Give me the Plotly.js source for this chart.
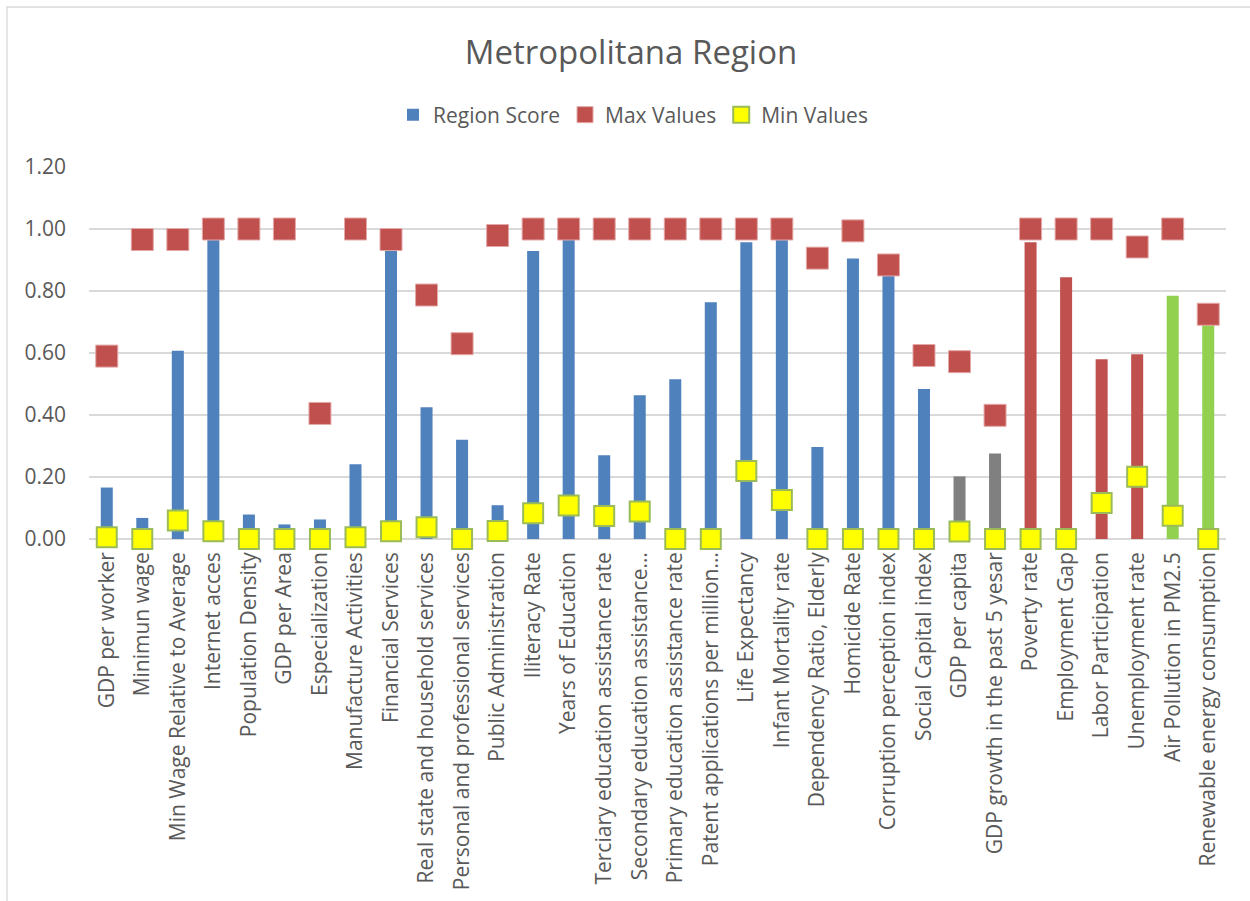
<!DOCTYPE html>
<html>
<head>
<meta charset="utf-8">
<script src="https://cdn.plot.ly/plotly-3.0.1.min.js"></script>
<style>
  html, body { margin: 0; padding: 0; background: #ffffff; }
  #chart { width: 1250px; height: 901px; }
</style>
</head>
<body>
<div id="chart"></div>
<script>
// Indicators of the Metropolitana region, normalised 0–1
const categories = [
  "GDP per worker", "Minimun wage", "Min Wage Relative to Average", "Internet acces",
  "Population Density", "GDP per Area", "Especialization", "Manufacture Activities",
  "Financial Services", "Real state and household services", "Personal and professional services",
  "Public Administration", "Iliteracy Rate", "Years of Education",
  "Terciary education assistance rate", "Secondary education assistance…",
  "Primary education assistance rate", "Patent applications per million…",
  "Life Expectancy", "Infant Mortality rate", "Dependency Ratio, Elderly", "Homicide Rate",
  "Corruption perception index", "Social Capital index", "GDP per capita",
  "GDP growth in the past 5 yesar", "Poverty rate", "Employment Gap", "Labor Participation",
  "Unemployment rate", "Air Pollution in PM2.5", "Renewable energy consumption"
];

// Indicator group of each category (decides the bar colour)
const indicatorGroup = [
  "structure", "structure", "structure", "structure",
  "structure", "structure", "structure", "structure",
  "structure", "structure", "structure",
  "structure", "structure", "structure",
  "structure", "structure",
  "structure", "structure",
  "structure", "structure", "structure", "structure",
  "structure", "structure", "growth",
  "growth", "labour", "labour", "labour",
  "labour", "environment", "environment"
];

const regionScore = [
  0.166, 0.068, 0.607, 0.985,
  0.079, 0.047, 0.063, 0.241,
  0.950, 0.425, 0.320,
  0.109, 0.929, 0.985,
  0.270, 0.464,
  0.515, 0.764,
  0.957, 0.985, 0.297, 0.905,
  0.870, 0.484, 0.202,
  0.276, 0.957, 0.844, 0.580,
  0.596, 0.785, 0.700
];

const maxValues = [
  0.59, 0.966, 0.966, 1.00,
  1.00, 1.00, 0.405, 1.00,
  0.966, 0.787, 0.630,
  0.979, 1.00, 1.00,
  1.00, 1.00,
  1.00, 1.00,
  1.00, 1.00, 0.906, 0.994,
  0.884, 0.592, 0.572,
  0.399, 1.00, 1.00, 1.00,
  0.942, 1.00, 0.725
];

const minValues = [
  0.006, 0.0, 0.060, 0.025,
  0.0, 0.0, 0.0, 0.006,
  0.025, 0.038, 0.0,
  0.026, 0.083, 0.108,
  0.074, 0.089,
  0.0, 0.0,
  0.219, 0.126, 0.0, 0.0,
  0.0, 0.0, 0.024,
  0.0, 0.0, 0.0, 0.116,
  0.201, 0.075, 0.0
];

const groupColours = {
  structure: "#4F81BD",
  growth: "#808080",
  labour: "#C0504D",
  environment: "#92D050"
};

const textColour = "#595959";
const fontFamily = "'Open Sans', 'Noto Sans', sans-serif";

const traces = [
  {
    type: "bar",
    name: "Region Score",
    x: categories,
    y: regionScore,
    marker: { color: indicatorGroup.map(g => groupColours[g]), line: { width: 0 } },
    hoverinfo: "x+y"
  },
  {
    type: "scatter",
    mode: "markers",
    name: "Max Values",
    x: categories,
    y: maxValues,
    cliponaxis: false,
    marker: { symbol: "square", size: 22, color: "#C0504D", line: { color: "#E3A9A8", width: 1 } }
  },
  {
    type: "scatter",
    mode: "markers",
    name: "Min Values",
    x: categories,
    y: minValues,
    cliponaxis: false,
    marker: { symbol: "square", size: 20, color: "#FFFF00", line: { color: "#9BBB59", width: 2 } }
  }
];

// plot area: x 89–1226, y 167–539 (px)
const L = 89, R = 1250 - 1226, T = 167, B = 901 - 539;
const plotW = 1250 - L - R, plotH = 901 - T - B;
const px2paperX = px => (px - L) / plotW;
const px2paperY = py => (901 - B - py) / plotH;

const layout = {
  width: 1250,
  height: 901,
  paper_bgcolor: "#ffffff",
  plot_bgcolor: "#ffffff",
  margin: { l: L, r: R, t: T, b: B, pad: 0 },
  font: { family: fontFamily, color: textColour, size: 21 },
  title: {
    text: "Metropolitana Region",
    font: { family: fontFamily, size: 33, color: textColour },
    xref: "paper",
    x: px2paperX(631),
    xanchor: "center",
    yref: "container",
    y: 1 - 52 / 901,
    yanchor: "middle"
  },
  showlegend: true,
  legend: {
    orientation: "h",
    xref: "paper",
    x: px2paperX(633),
    xanchor: "center",
    yref: "paper",
    y: px2paperY(115),
    yanchor: "middle",
    font: { family: fontFamily, size: 21, color: textColour },
    bgcolor: "rgba(0,0,0,0)",
    traceorder: "normal"
  },
  bargap: 0.662,
  xaxis: {
    type: "category",
    range: [-0.5, categories.length - 0.5],
    tickangle: -90,
    tickfont: { family: fontFamily, size: 21, color: textColour },
    showgrid: false,
    showline: false,
    ticks: "",
    ticklabelstandoff: 8,
    automargin: false,
    fixedrange: true
  },
  yaxis: {
    range: [0, 1.2],
    dtick: 0.2,
    tick0: 0,
    tickformat: ".2f",
    tickfont: { family: fontFamily, size: 21, color: textColour },
    showgrid: true,
    gridcolor: "#D9D9D9",
    gridwidth: 1.3,
    zeroline: true,
    zerolinecolor: "#D9D9D9",
    zerolinewidth: 1.3,
    showline: false,
    ticks: "",
    ticklabelstandoff: 22,
    automargin: false,
    fixedrange: true
  },
  shapes: [
    {
      type: "rect",
      xref: "paper", yref: "paper",
      x0: px2paperX(7), x1: px2paperX(1262),
      y0: px2paperY(912), y1: px2paperY(7),
      line: { color: "#D9D9D9", width: 1.3 },
      fillcolor: "rgba(0,0,0,0)",
      layer: "below"
    }
  ]
};

Plotly.newPlot("chart", traces, layout, { displayModeBar: false, staticPlot: true });
</script>
</body>
</html>
